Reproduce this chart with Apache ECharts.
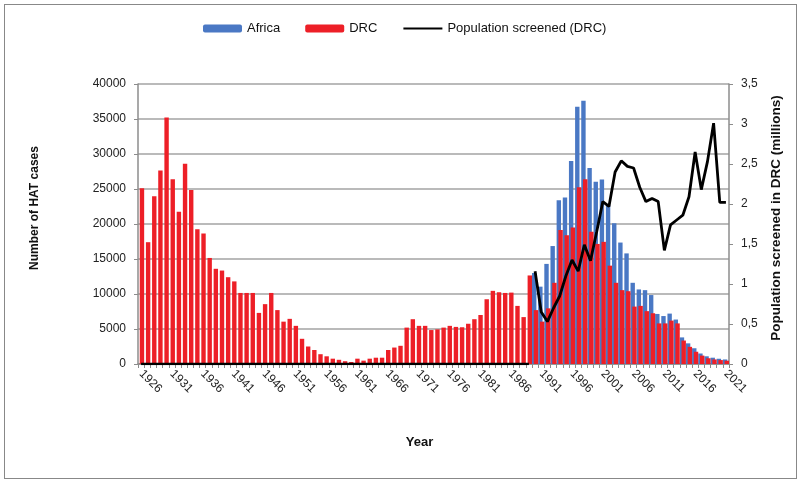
<!DOCTYPE html>
<html>
<head>
<meta charset="utf-8">
<script src="https://cdn.jsdelivr.net/npm/echarts@6/dist/echarts.min.js"></script>
<style>
html,body{margin:0;padding:0;background:#fff;}
#wrap{position:relative;width:800px;height:483px;}
#chart{width:800px;height:483px;}
#frame{position:absolute;left:4px;top:4px;width:791px;height:473px;border:1px solid #888;pointer-events:none;}
</style>
</head>
<body>
<div id="wrap"><div id="chart"></div><div id="frame"></div></div>
<script>
// Years 1926–2021
var years = [];
for (var y = 1926; y <= 2021; y++) years.push(String(y));

// HAT cases, DRC (1926–2021)
var drcCases = [
  25100, 17400, 23950, 27650, 35200, 26400, 21750, 28600, 24850, 19250,
  18650, 15150, 13600, 13350, 12400, 11800, 10150, 10150, 10150, 7300,
  8550, 10150, 7700, 6050, 6450, 5450, 3600, 2500, 2000, 1400,
  1100, 760, 600, 400, 290, 760, 480, 760, 900, 900,
  2000, 2350, 2600, 5200, 6400, 5450, 5450, 4850, 4950, 5200,
  5450, 5300, 5250, 5750, 6400, 7000, 9250, 10450, 10250, 10150,
  10200, 8300, 6700, 12650, 7700, 6050, 7950, 11600, 19150, 18400,
  19500, 25250, 26400, 18900, 17150, 17450, 14050, 11600, 10550, 10400,
  8200, 8300, 7550, 7250, 5800, 5800, 6200, 5800, 3350, 2450,
  1750, 1200, 820, 650, 560, 470
];

// HAT cases, Africa (1990–2021)
var africaYears = [
  '1990','1991','1992','1993','1994','1995','1996','1997','1998','1999',
  '2000','2001','2002','2003','2004','2005','2006','2007','2008','2009',
  '2010','2011','2012','2013','2014','2015','2016','2017','2018','2019',
  '2020','2021'
];
var africaCases = [
  13000, 11050, 14300, 16850, 23400, 23800, 29000, 36750, 37600, 28000,
  26050, 26350, 22700, 20100, 17350, 15800, 11600, 10650, 10550, 9850,
  7150, 6850, 7200, 6350, 3800, 2950, 2250, 1500, 1100, 900,
  750, 650
];

// Population screened in DRC (millions), 1926–2021 (0 = none shown before 1990)
var screenedDRC = [
  0, 0, 0, 0, 0, 0, 0, 0, 0, 0,
  0, 0, 0, 0, 0, 0, 0, 0, 0, 0,
  0, 0, 0, 0, 0, 0, 0, 0, 0, 0,
  0, 0, 0, 0, 0, 0, 0, 0, 0, 0,
  0, 0, 0, 0, 0, 0, 0, 0, 0, 0,
  0, 0, 0, 0, 0, 0, 0, 0, 0, 0,
  0, 0, 0, 0,
  1.16, 0.65, 0.53, 0.70, 0.85, 1.10, 1.30, 1.16, 1.49, 1.29,
  1.65, 2.03, 1.97, 2.40, 2.54, 2.47, 2.45, 2.21, 2.03, 2.07,
  2.03, 1.42, 1.74, 1.80, 1.86, 2.09, 2.65, 2.18, 2.53, 3.01,
  2.02, 2.02
];
var screeningStart = '1990';

// build series data
var africaData = years.map(function (yr) {
  var i = africaYears.indexOf(yr);
  return i >= 0 ? africaCases[i] : null;
});
var startIdx = years.indexOf(screeningStart);
var screenedBefore = screenedDRC.map(function (v, i) { return i < startIdx ? v : null; });
var screenedAfter = screenedDRC.map(function (v, i) { return i >= startIdx ? v : null; });

var FONT = 'Liberation Sans, Arial, sans-serif';
var chart = echarts.init(document.getElementById('chart'), null, { renderer: 'canvas' });
chart.setOption({
  animation: false,
  backgroundColor: '#ffffff',
  textStyle: { fontFamily: FONT },
  legend: {
    data: [
      { name: 'Africa' },
      { name: 'DRC' },
      { name: 'Population screened (DRC)', itemStyle: { opacity: 0 } }
    ],
    left: 198,
    top: 17,
    itemWidth: 39,
    itemHeight: 8,
    itemGap: 25,
    textStyle: { fontFamily: FONT, fontSize: 13, color: '#111' }
  },
  grid: { left: 138, right: 71, top: 84, bottom: 119, containLabel: false },
  xAxis: {
    type: 'category',
    data: years,
    boundaryGap: true,
    name: 'Year',
    nameLocation: 'middle',
    nameGap: 72,
    nameTextStyle: { fontFamily: FONT, fontSize: 13, fontWeight: 'bold', color: '#111', padding: [0, 28, 0, 0] },
    axisLine: { show: true, lineStyle: { color: '#8c8c8c', width: 1.5 } },
    axisTick: { show: true, interval: 0, length: 4, lineStyle: { color: '#8c8c8c' } },
    axisLabel: { interval: 4, rotate: -45, fontSize: 12, color: '#222', fontFamily: FONT, margin: 8 },
    splitLine: { show: false }
  },
  yAxis: [
    {
      type: 'value',
      min: 0, max: 40000, interval: 5000,
      name: 'Number of HAT cases',
      nameLocation: 'middle',
      nameGap: 97,
      nameTextStyle: { fontFamily: FONT, fontSize: 12, fontWeight: 'bold', color: '#111', padding: [0, 0, 0, 32] },
      axisLine: { show: true, lineStyle: { color: '#8c8c8c', width: 1.5 } },
      axisTick: { show: true, length: 4, lineStyle: { color: '#8c8c8c' } },
      axisLabel: {
        fontSize: 12, color: '#222', fontFamily: FONT, margin: 12,
        formatter: function (v) { return String(v); }
      },
      splitLine: { show: true, lineStyle: { color: '#a3a3a3', width: 1.5 } }
    },
    {
      type: 'value',
      min: 0, max: 3.5, interval: 0.5,
      position: 'right',
      name: 'Population screened in DRC (millions)',
      nameLocation: 'middle',
      nameGap: 40,
      nameRotate: 90,
      nameTextStyle: { fontFamily: FONT, fontSize: 13.5, fontWeight: 'bold', color: '#111', padding: [0, 0, 0, 12] },
      axisLine: { show: true, lineStyle: { color: '#8c8c8c', width: 1.5 } },
      axisTick: { show: true, length: 4, lineStyle: { color: '#8c8c8c' } },
      axisLabel: {
        fontSize: 12, color: '#222', fontFamily: FONT, margin: 12,
        formatter: function (v) { return String(v).replace('.', ','); }
      },
      splitLine: { show: false }
    }
  ],
  series: [
    {
      name: 'Africa',
      type: 'bar',
      data: africaData,
      barWidth: 4.4,
      barGap: '-60%',
      itemStyle: { color: '#4a78c4' }
    },
    {
      name: 'DRC',
      type: 'bar',
      data: drcCases,
      barWidth: 4.4,
      barGap: '-60%',
      itemStyle: { color: '#ed1f27' }
    },
    {
      name: 'Population screened (DRC)',
      type: 'line',
      yAxisIndex: 1,
      data: screenedAfter,
      symbol: 'none',
      connectNulls: false,
      lineStyle: { color: '#000', width: 2.8 },
      itemStyle: { color: '#000' },
      z: 5
    },
    {
      name: 'screened-before',
      type: 'line',
      yAxisIndex: 1,
      data: screenedBefore,
      symbol: 'none',
      connectNulls: false,
      lineStyle: { color: '#000', width: 2.5 },
      itemStyle: { color: '#000' },
      z: 5
    }
  ]
});
</script>
</body>
</html>
